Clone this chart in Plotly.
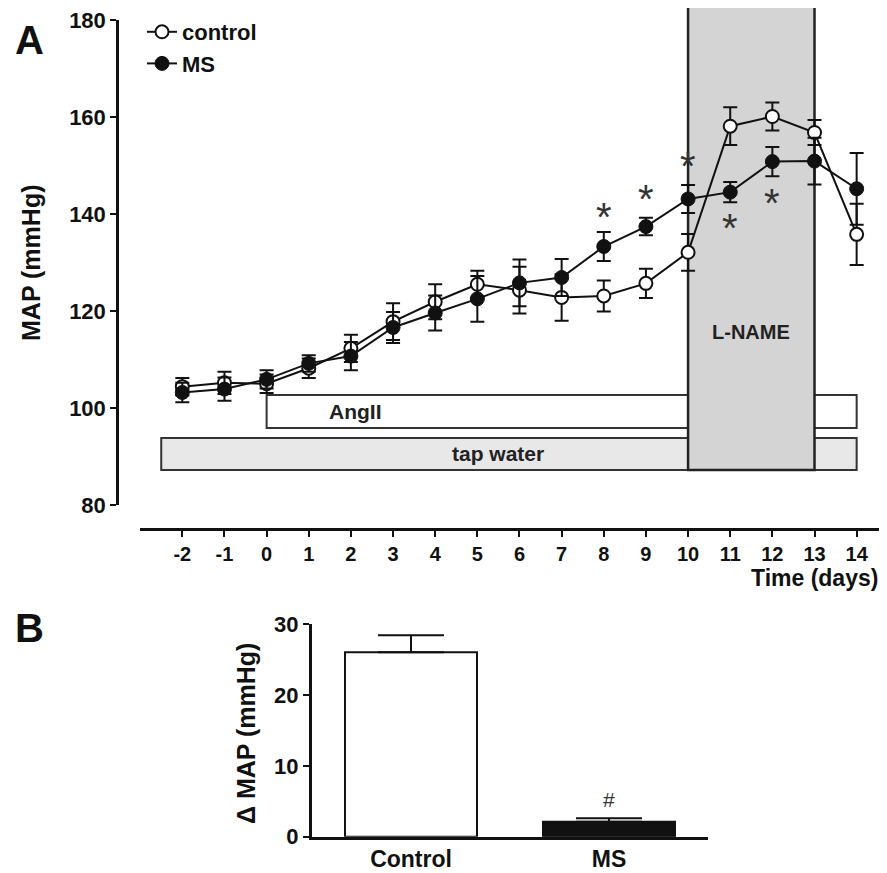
import plotly.graph_objects as go

# ---------------- data ----------------
days = [-2, -1, 0, 1, 2, 3, 4, 5, 6, 7, 8, 9, 10, 11, 12, 13, 14]
day_labels = ["-2", "-1", "0", "1", "2", "3", "4", "5", "6", "7", "8", "9", "10", "11", "12", "13", "14"]
map_ticks = [80, 100, 120, 140, 160, 180]
control_map = [104.4, 105.2, 105.0, 108.2, 112.3, 117.8, 121.9, 125.5, 124.3, 122.8, 123.1, 125.7, 132.1, 158.1, 160.1, 156.8, 135.8]
control_sem = [1.8, 2.3, 1.9, 2.0, 2.8, 3.8, 3.6, 2.8, 4.8, 4.8, 3.2, 3.0, 3.8, 3.9, 2.9, 2.6, 6.3]
ms_map = [103.2, 103.9, 105.9, 109.2, 110.7, 116.6, 119.6, 122.5, 125.8, 126.9, 133.3, 137.4, 143.1, 144.5, 150.8, 150.9, 145.2]
ms_sem = [2.0, 2.4, 1.9, 1.7, 2.9, 3.2, 3.6, 4.7, 4.8, 3.8, 3.0, 1.8, 2.9, 2.1, 3.0, 4.8, 7.4]

star_days = [8, 9, 10, 11, 12]
star_y = [140.6, 144.3, 151.1, 138.4, 143.6]

# treatment periods (start day, end day, lower, upper MAP level)
tap_span = [-2.5, 14]
tap_level = [87.2, 93.8]
ang_span = [0, 14]
ang_level = [95.9, 102.7]
lname_span = [10, 13]
lname_level = [87.2, 186]

groups = ["Control", "MS"]
delta_map = [26.0, 2.1]
delta_sem = [2.4, 0.5]
delta_ticks = [0, 10, 20, 30]

# ---------------- layout helpers ----------------
# the page body has an 8px margin, so the figure is drawn at (8, 8)
OFF = 8
W, H = 887 - OFF, 873 - OFF
def px(x):
    return (x - OFF) / W
def py(y):
    return 1 - (y - OFF) / H

FONT = "Liberation Sans"
INK = "#111111"
def f(size, color=INK):
    return dict(family=FONT, size=size, color=color, weight="bold")

fig = go.Figure()

# control
fig.add_trace(go.Scatter(
    x=days, y=control_map, name="control", mode="lines+markers",
    line=dict(color=INK, width=2),
    marker=dict(symbol="circle", size=13, color="white", line=dict(color=INK, width=2)),
    error_y=dict(type="data", array=control_sem, visible=True, thickness=2, width=7, color=INK),
    xaxis="x", yaxis="y"))
# MS
fig.add_trace(go.Scatter(
    x=days, y=ms_map, name="MS", mode="lines+markers",
    line=dict(color=INK, width=2),
    marker=dict(symbol="circle", size=14, color=INK, line=dict(color=INK, width=1)),
    error_y=dict(type="data", array=ms_sem, visible=True, thickness=2, width=7, color=INK),
    xaxis="x", yaxis="y"))
# dummy trace to show the visible MAP axis
fig.add_trace(go.Scatter(x=[None], y=[None], xaxis="x", yaxis="y3", showlegend=False, hoverinfo="skip"))

# panel B bars
fig.add_trace(go.Bar(
    x=groups, y=delta_map, width=0.667, showlegend=False,
    marker=dict(color=["white", INK], line=dict(color=INK, width=2)),
    error_y=dict(type="data", array=delta_sem, arrayminus=[0, 0], symmetric=False,
                 visible=True, thickness=2, width=33, color=INK),
    xaxis="x2", yaxis="y2"))

# treatment boxes
fig.add_shape(type="rect", xref="x", yref="y", x0=tap_span[0], x1=tap_span[1], y0=tap_level[0], y1=tap_level[1],
              fillcolor="#e8e8e8", line=dict(color="#333333", width=2), layer="below")
fig.add_shape(type="rect", xref="x", yref="y", x0=ang_span[0], x1=ang_span[1], y0=ang_level[0], y1=ang_level[1],
              fillcolor="white", line=dict(color="#333333", width=2), layer="below")
fig.add_shape(type="rect", xref="x", yref="y", x0=lname_span[0], x1=lname_span[1], y0=lname_level[0], y1=lname_level[1],
              fillcolor="#d4d4d4", line=dict(color="#222222", width=2.5), layer="below")

def A(**kw):
    d = dict(showarrow=False, xanchor="center", yanchor="middle")
    d.update(kw)
    return d

ann = []
ann.append(A(xref="x", yref="y", x=2.1, y=99.3, text="AngII", font=f(21, "#222")))
ann.append(A(xref="x", yref="y", x=5.5, y=90.6, text="tap water", font=f(21, "#222")))
ann.append(A(xref="x", yref="y", x=11.5, y=115.7, text="L-NAME", font=f(20, "#222")))
for d, s in zip(star_days, star_y):
    ann.append(A(xref="x", yref="y", x=d, y=s, text="*",
                 font=dict(family=FONT, size=40, color="#333"), yshift=-6))
ann.append(A(xref="x2", yref="y2", x="MS", y=5.2, text="#",
             font=dict(family=FONT, size=21, color="#333")))
# panel letters & titles
ann.append(A(xref="paper", yref="paper", x=px(29), y=py(40), text="A", font=f(40)))
ann.append(A(xref="paper", yref="paper", x=px(29), y=py(628), text="B", font=f(40)))
ann.append(A(xref="paper", yref="paper", x=px(31), y=py(263), text="MAP (mmHg)", textangle=-90, font=f(25)))
ann.append(A(xref="paper", yref="paper", x=px(246), y=py(734), text="Δ MAP (mmHg)", textangle=-90, font=f(25)))
ann.append(A(xref="paper", yref="paper", x=px(880), y=py(578), text="Time (days)", xanchor="right", font=f(23)))

fig.update_layout(
    template="none",
    width=W, height=H, margin=dict(l=0, r=0, t=0, b=0, autoexpand=False),
    paper_bgcolor="white", plot_bgcolor="rgba(0,0,0,0)",
    annotations=ann,
    showlegend=True,
    legend=dict(x=px(142), y=py(11), xanchor="left", yanchor="top", font=f(22),
                bgcolor="rgba(0,0,0,0)", tracegroupgap=0, itemwidth=30),
    xaxis=dict(domain=[px(140), 1], range=[-3.004, 14.72], anchor="y", automargin=False,
               showline=True, linewidth=3, linecolor=INK, ticks="outside", ticklen=6, tickwidth=2,
               tickcolor=INK, tickvals=days, ticktext=day_labels, tickfont=f(20),
               showgrid=False, zeroline=False),
    yaxis=dict(domain=[py(528), 1], range=[75.26, 182.47], visible=False, showgrid=False,
               zeroline=False, automargin=False),
    yaxis3=dict(domain=[py(505), py(20)], range=[80, 180], anchor="free", position=px(117), side="left",
                automargin=False, showline=True, linewidth=2.5, linecolor=INK, ticks="outside", ticklen=6,
                tickwidth=2, tickcolor=INK, tickvals=map_ticks, tickfont=f(22), ticklabeloverflow="allow",
                showgrid=False, zeroline=False),
    xaxis2=dict(domain=[px(312), px(708)], range=[-0.5, 1.5], anchor="y2", automargin=False,
                showline=True, linewidth=3, linecolor=INK, ticks="", tickfont=f(23),
                showgrid=False, zeroline=False),
    yaxis2=dict(domain=[py(836.7), py(624)], range=[0, 30], anchor="x2", automargin=False,
                showline=True, linewidth=3, linecolor=INK, ticks="outside", ticklen=6, tickwidth=2,
                tickcolor=INK, tickvals=delta_ticks, tickfont=f(22), ticklabeloverflow="allow",
                showgrid=False, zeroline=False),
)

fig.write_html("out.html")
